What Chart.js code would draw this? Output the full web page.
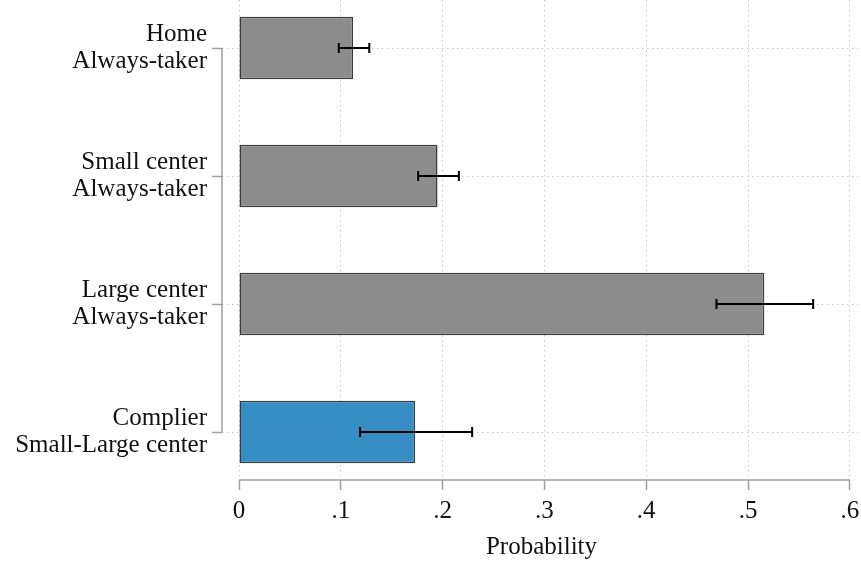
<!DOCTYPE html>
<html>
<head>
<meta charset="utf-8">
<script src="https://cdn.jsdelivr.net/npm/chart.js@4/dist/chart.umd.min.js"></script>
<style>
  body { margin: 0; background: #ffffff; }
  #wrap { width: 861px; height: 562px; position: relative; }
</style>
</head>
<body>
<div id="wrap"><canvas id="probChart"></canvas></div>
<script>
// categories (two-line labels), top to bottom
const groups = [
    ['Home', 'Always-taker'],
    ['Small center', 'Always-taker'],
    ['Large center', 'Always-taker'],
    ['Complier', 'Small-Large center']
];
const probability = [0.112, 0.195, 0.516, 0.173];
const ciLow = [0.098, 0.176, 0.469, 0.119];
const ciHigh = [0.128, 0.216, 0.564, 0.229];
const barColors = ['#8c8c8c', '#8c8c8c', '#8c8c8c', '#358dc3'];
const xTicks = [0, 0.1, 0.2, 0.3, 0.4, 0.5, 0.6];
const xTickLabels = ['0', '.1', '.2', '.3', '.4', '.5', '.6'];

const serif = 'Liberation Serif';

// stata-like axis lines (only between the outer ticks) and error bars
const stataExtras = {
    id: 'stataExtras',
    afterDraw(chart) {
        const ctx = chart.ctx;
        const xs = chart.scales.x;
        const ys = chart.scales.y;
        ctx.save();
        // axis lines
        ctx.strokeStyle = '#a0a0a0';
        ctx.lineWidth = 1.5;
        ctx.beginPath();
        ctx.moveTo(xs.left, ys.getPixelForValue(1));
        ctx.lineTo(xs.left, ys.getPixelForValue(groups.length));
        ctx.moveTo(xs.getPixelForValue(xTicks[0]), ys.bottom);
        ctx.lineTo(xs.getPixelForValue(xTicks[xTicks.length - 1]), ys.bottom);
        ctx.stroke();
        // error bars
        ctx.strokeStyle = '#000000';
        ctx.lineWidth = 2;
        for (let i = 0; i < groups.length; i++) {
            const y = ys.getPixelForValue(i + 1);
            const x1 = xs.getPixelForValue(ciLow[i]);
            const x2 = xs.getPixelForValue(ciHigh[i]);
            ctx.beginPath();
            ctx.moveTo(x1, y);
            ctx.lineTo(x2, y);
            ctx.moveTo(x1, y - 5);
            ctx.lineTo(x1, y + 5);
            ctx.moveTo(x2, y - 5);
            ctx.lineTo(x2, y + 5);
            ctx.stroke();
        }
        ctx.restore();
    }
};

const ctxProb = document.getElementById('probChart').getContext('2d');
new Chart(ctxProb, {
    type: 'bar',
    data: {
        datasets: [{
            data: probability.map((v, i) => ({ x: v, y: i + 1 })),
            backgroundColor: barColors,
            borderColor: '#3a3a3a',
            borderWidth: 1.5,
            borderSkipped: false,
            categoryPercentage: 1,
            barPercentage: 0.49
        }]
    },
    options: {
        indexAxis: 'y',
        responsive: true,
        maintainAspectRatio: false,
        animation: false,
        layout: { padding: 0 },
        plugins: {
            legend: { display: false },
            tooltip: { enabled: false }
        },
        scales: {
            x: {
                type: 'linear',
                min: -0.0167,
                max: 0.611,
                afterBuildTicks: (s) => { s.ticks = xTicks.map(v => ({ value: v })); },
                afterFit: (s) => { s.height = 82; s.paddingRight = 0; },
                ticks: {
                    color: '#111111',
                    padding: 6,
                    maxRotation: 0,
                    font: { family: serif, size: 25 },
                    callback: (v, i) => xTickLabels[i]
                },
                grid: {
                    color: '#c8c8c8',
                    lineWidth: 1,
                    tickColor: '#a0a0a0',
                    tickWidth: 1.5,
                    tickBorderDash: [],
                    tickLength: 10
                },
                border: { display: false, dash: [1.5, 3.5] },
                title: {
                    display: true,
                    text: 'Probability',
                    color: '#111111',
                    padding: { top: 2, bottom: 0 },
                    font: { family: serif, size: 25 }
                }
            },
            y: {
                type: 'linear',
                reverse: true,
                offset: false,
                min: 0.625,
                max: groups.length + 0.375,
                afterBuildTicks: (s) => { s.ticks = groups.map((g, i) => ({ value: i + 1 })); },
                afterFit: (s) => { s.width = 222; s.paddingTop = 0; s.paddingBottom = 0; },
                ticks: {
                    color: '#111111',
                    padding: 5,
                    font: { family: serif, size: 25, lineHeight: 1.08 },
                    callback: (v) => groups[v - 1]
                },
                grid: {
                    offset: false,
                    color: '#c8c8c8',
                    lineWidth: 1,
                    tickColor: '#a0a0a0',
                    tickWidth: 1.5,
                    tickBorderDash: [],
                    tickLength: 10
                },
                border: { display: false, dash: [1.5, 3.5] }
            }
        }
    },
    plugins: [stataExtras]
});
</script>
</body>
</html>
